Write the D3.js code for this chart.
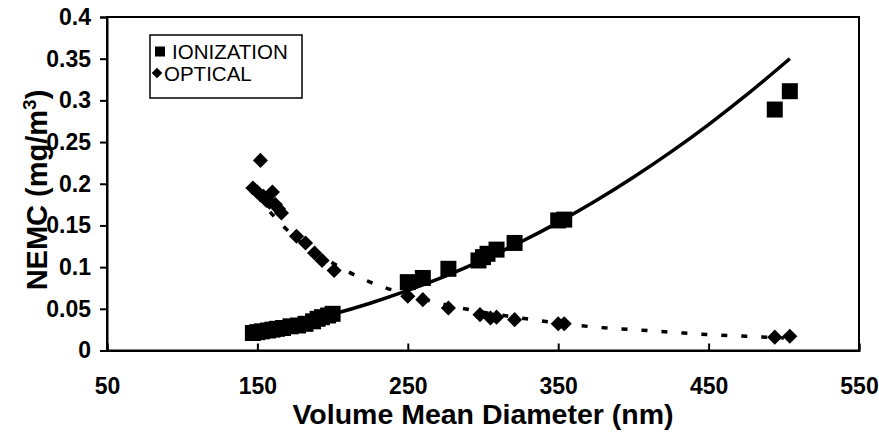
<!DOCTYPE html>
<html>
<head>
<meta charset="utf-8">
<script src="https://cdn.jsdelivr.net/npm/d3@7"></script>
<style>
  body { margin: 0; background: #fff; }
  svg { display: block; font-family: 'Liberation Sans', Arial, sans-serif; }
  .axis { stroke: #000; stroke-width: 2; fill: none; }
</style>
</head>
<body>
<div id="graph-container"></div>
<script>
const width = 879;
const height = 443;
const plot = {left: 107, right: 859, top: 17, bottom: 350.5};

// measured points
const ionX = [147, 150, 153, 157, 160, 163, 167, 172, 177, 182, 187, 190, 193, 197, 200,
              250, 260, 277, 297, 300, 303, 309, 321, 350, 354, 494, 504];
const ionY = [0.021, 0.022, 0.023, 0.024, 0.025, 0.026, 0.027, 0.029, 0.030, 0.032, 0.035, 0.038, 0.040, 0.042, 0.044,
              0.082, 0.087, 0.098, 0.108, 0.112, 0.116, 0.121, 0.129, 0.156, 0.157, 0.289, 0.311];

const optX = [147, 150, 152, 154, 156, 158, 160, 162, 164, 166, 176, 182, 188, 193, 201,
              250, 260, 277, 298, 305, 309, 321, 350, 354, 494, 504];
const optY = [0.195, 0.19, 0.228, 0.185, 0.18, 0.178, 0.19, 0.175, 0.17, 0.165, 0.137, 0.129, 0.117, 0.108, 0.096,
              0.065, 0.061, 0.051, 0.043, 0.039, 0.040, 0.037, 0.032, 0.032, 0.016, 0.017];

// trend lines
const ionFitX = [147, 175, 200, 225, 250, 275, 300, 325, 350, 375, 400, 425, 450, 475, 504];
const ionFitY = [0.0217, 0.0322, 0.0435, 0.0567, 0.072, 0.0892, 0.1086, 0.1301, 0.1537, 0.1796, 0.2078, 0.2382, 0.271, 0.3062, 0.350];
const optFitX = [150, 160, 175, 200, 225, 250, 275, 300, 325, 350, 375, 400, 425, 450, 475, 500];
const optFitY = [0.185, 0.163, 0.136, 0.105, 0.082, 0.067, 0.055, 0.046, 0.039, 0.033, 0.028, 0.025, 0.022, 0.019, 0.017, 0.015];

const xTicks = [50, 150, 250, 350, 450, 550];
const yTicks = [0, 0.05, 0.1, 0.15, 0.2, 0.25, 0.3, 0.35, 0.4];
const legendLabels = ['IONIZATION', 'OPTICAL'];

const x = d3.scaleLinear().domain([50, 550]).range([plot.left, plot.right]);
const y = d3.scaleLinear().domain([0, 0.4]).range([plot.bottom, plot.top]);

const svg = d3.select('#graph-container')
              .append('svg')
              .attr('width', width)
              .attr('height', height);

// frame
svg.append('rect')
   .attr('class', 'axis')
   .attr('x', plot.left)
   .attr('y', plot.top)
   .attr('width', plot.right - plot.left)
   .attr('height', plot.bottom - plot.top);

// y axis ticks point outward
svg.append('g')
   .attr('transform', 'translate(' + plot.left + ',0)')
   .call(d3.axisLeft(y).tickValues(yTicks).tickSize(7).tickPadding(9).tickFormat(d3.format('~g')))
   .call(styleAxis);

// x axis ticks point inward
svg.append('g')
   .attr('transform', 'translate(0,' + plot.bottom + ')')
   .call(d3.axisBottom(x).tickValues(xTicks).tickSize(-7).tickPadding(27).tickFormat(d3.format('d')))
   .call(styleAxis);

function styleAxis(g) {
  g.attr('font-family', 'Liberation Sans, Arial, sans-serif').attr('font-size', 23).attr('font-weight', 'bold');
  g.select('.domain').attr('stroke', '#000').attr('stroke-width', 2);
  g.selectAll('.tick line').attr('stroke', '#000').attr('stroke-width', 2);
  g.selectAll('.tick text').attr('fill', '#000');
}

// fitted curves
const line = d3.line().x((d) => x(d[0])).y((d) => y(d[1])).curve(d3.curveMonotoneX);

svg.append('path')
   .datum(d3.zip(ionFitX, ionFitY))
   .attr('d', line)
   .attr('fill', 'none')
   .attr('stroke', '#000')
   .attr('stroke-width', 3.5);

svg.append('path')
   .datum(d3.zip(optFitX, optFitY))
   .attr('d', line)
   .attr('fill', 'none')
   .attr('stroke', '#000')
   .attr('stroke-width', 3.5)
   .attr('stroke-dasharray', '6,14');

// markers
const square = d3.symbol().type(d3.symbolSquare).size(256);
const diamond = d3.symbol().type(d3.symbolDiamond2).size(145);

svg.append('g')
   .selectAll('path')
   .data(d3.zip(ionX, ionY))
   .enter()
   .append('path')
   .attr('d', square)
   .attr('transform', (d) => 'translate(' + x(d[0]) + ',' + y(d[1]) + ')')
   .attr('fill', '#000');

svg.append('g')
   .selectAll('path')
   .data(d3.zip(optX, optY))
   .enter()
   .append('path')
   .attr('d', diamond)
   .attr('transform', (d) => 'translate(' + x(d[0]) + ',' + y(d[1]) + ')')
   .attr('fill', '#000');

// titles
svg.append('text')
   .attr('font-size', 28.5)
   .attr('font-weight', 'bold')
   .attr('text-anchor', 'middle')
   .attr('x', (plot.left + plot.right) / 2)
   .attr('y', 424)
   .text('Volume Mean Diameter (nm)');

let yTitle = svg.append('text')
                .attr('font-size', 29)
                .attr('font-weight', 'bold')
                .attr('text-anchor', 'middle')
                .attr('transform', 'translate(47,190) rotate(-90)');
yTitle.append('tspan').text('NEMC (mg/m');
yTitle.append('tspan').attr('font-size', 19).attr('dy', -11).text('3');
yTitle.append('tspan').attr('dy', 11).text(')');

// legend
const legend = svg.append('g');
legend.append('rect')
      .attr('x', 150).attr('y', 35)
      .attr('width', 152).attr('height', 63)
      .attr('fill', '#fff').attr('stroke', '#000').attr('stroke-width', 1.5);

legend.append('path')
      .attr('d', d3.symbol().type(d3.symbolSquare).size(100))
      .attr('transform', 'translate(160,51.5)');
legend.append('path')
      .attr('d', d3.symbol().type(d3.symbolDiamond2).size(72))
      .attr('transform', 'translate(157,73)');

legend.selectAll('text')
      .data(legendLabels)
      .enter()
      .append('text')
      .attr('font-size', 20.5)
      .attr('x', (d, i) => i === 0 ? 172 : 164)
      .attr('y', (d, i) => 58.5 + i * 22.5)
      .text((d) => d);
</script>
</body>
</html>
